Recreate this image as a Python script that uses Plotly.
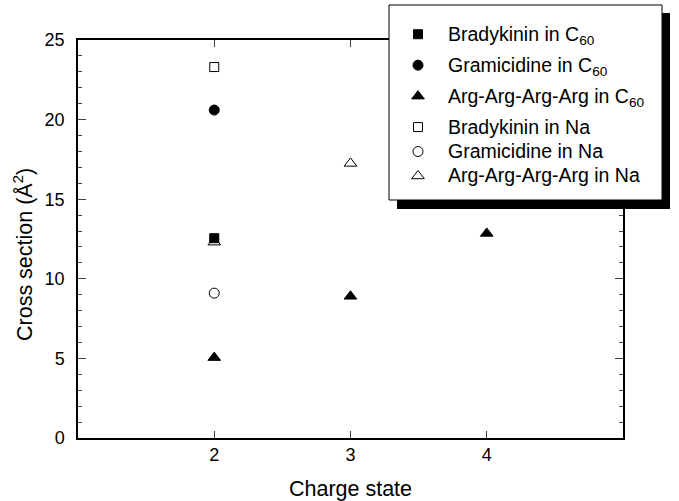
import plotly.graph_objects as go

# Data
brady_c60_x = [2]
brady_c60_y = [12.55]
gram_c60_x = [2]
gram_c60_y = [20.6]
arg_c60_x = [2, 3, 4]
arg_c60_y = [5.05, 8.9, 12.85]
brady_na_x = [2]
brady_na_y = [23.3]
gram_na_x = [2]
gram_na_y = [9.1]
arg_na_x = [2, 3]
arg_na_y = [12.3, 17.25]

x_ticks = [2, 3, 4]

FONT = "Arial, Liberation Sans, sans-serif"

def big(s):
    return '<span style="font-size:19.5px">' + s + '</span>'

series = [
    ("Bradykinin in C<sub>60</sub>", brady_c60_x, brady_c60_y, "square", 9, "g1"),
    ("Gramicidine in C<sub>60</sub>", gram_c60_x, gram_c60_y, "circle", 10, "g2"),
    ("Arg-Arg-Arg-Arg in C<sub>60</sub>", arg_c60_x, arg_c60_y, "triangle-up", 11, "g3"),
    ("Bradykinin in Na", brady_na_x, brady_na_y, "square-open", 9, "na"),
    ("Gramicidine in Na", gram_na_x, gram_na_y, "circle-open", 10, "na"),
    ("Arg-Arg-Arg-Arg in Na", arg_na_x, arg_na_y, "triangle-up-open", 11, "na"),
]

fig = go.Figure()
for name, xs, ys, sym, sz, grp in series:
    fig.add_trace(go.Scatter(
        x=xs, y=ys, mode="markers", name=big(name), legendgroup=grp,
        marker=dict(symbol=sym, size=sz, color="black", line=dict(color="black", width=1)),
    ))

W, H = 679, 501
L, R, T, B = 78, 56, 40, 63
pw, ph = W - L - R, H - T - B

def px2paper_x(px):
    return (px - L) / pw

def px2paper_y(py):
    return (H - B - py) / ph

# legend box with shadow
fig.add_shape(type="rect", xref="paper", yref="paper",
              x0=px2paper_x(397), x1=px2paper_x(670), y0=px2paper_y(209), y1=px2paper_y(13),
              fillcolor="black", line=dict(width=0), layer="above")
fig.add_shape(type="rect", xref="paper", yref="paper",
              x0=px2paper_x(389), x1=px2paper_x(662), y0=px2paper_y(200), y1=px2paper_y(5),
              fillcolor="white", line=dict(color="black", width=1), layer="above")

fig.add_annotation(
    text="Cross section (Å<sup>2</sup>)", textangle=-90,
    xref="paper", yref="paper", x=px2paper_x(23), y=px2paper_y(255),
    xanchor="center", yanchor="middle", showarrow=False,
    font=dict(family=FONT, size=21.5, color="black"),
)

fig.update_layout(
    width=W, height=H,
    margin=dict(l=L, r=R, t=T, b=B),
    paper_bgcolor="white", plot_bgcolor="white",
    font=dict(family=FONT, color="black", size=18),
    showlegend=True,
    legend=dict(
        x=px2paper_x(388), y=px2paper_y(17), xanchor="left", yanchor="top",
        bgcolor="rgba(0,0,0,0)", borderwidth=0,
        font=dict(family=FONT, size=16.5, color="black"),
        tracegroupgap=6.5, itemwidth=50,
    ),
    xaxis=dict(
        range=[1, 5], tickvals=x_ticks, ticks="inside", ticklen=7, tickwidth=1.3,
        showline=True, linecolor="black", linewidth=1.5, mirror="ticks",
        showgrid=False, zeroline=False,
        title=dict(text="Charge state", font=dict(size=21.5), standoff=17),
        tickfont=dict(size=18), automargin=False,
    ),
    yaxis=dict(
        range=[0, 25], dtick=5, ticks="inside", ticklen=8, tickwidth=1.3,
        minor=dict(dtick=1, ticks="inside", ticklen=4, tickwidth=1.3),
        showline=True, linecolor="black", linewidth=1.5, mirror="ticks",
        showgrid=False, zeroline=False,
        tickfont=dict(size=18), ticklabelstandoff=8, automargin=False,
    ),
)

fig.write_html("out.html", config={"displayModeBar": False},
               post_script="document.body.style.margin='0';document.body.style.overflow='hidden';")
